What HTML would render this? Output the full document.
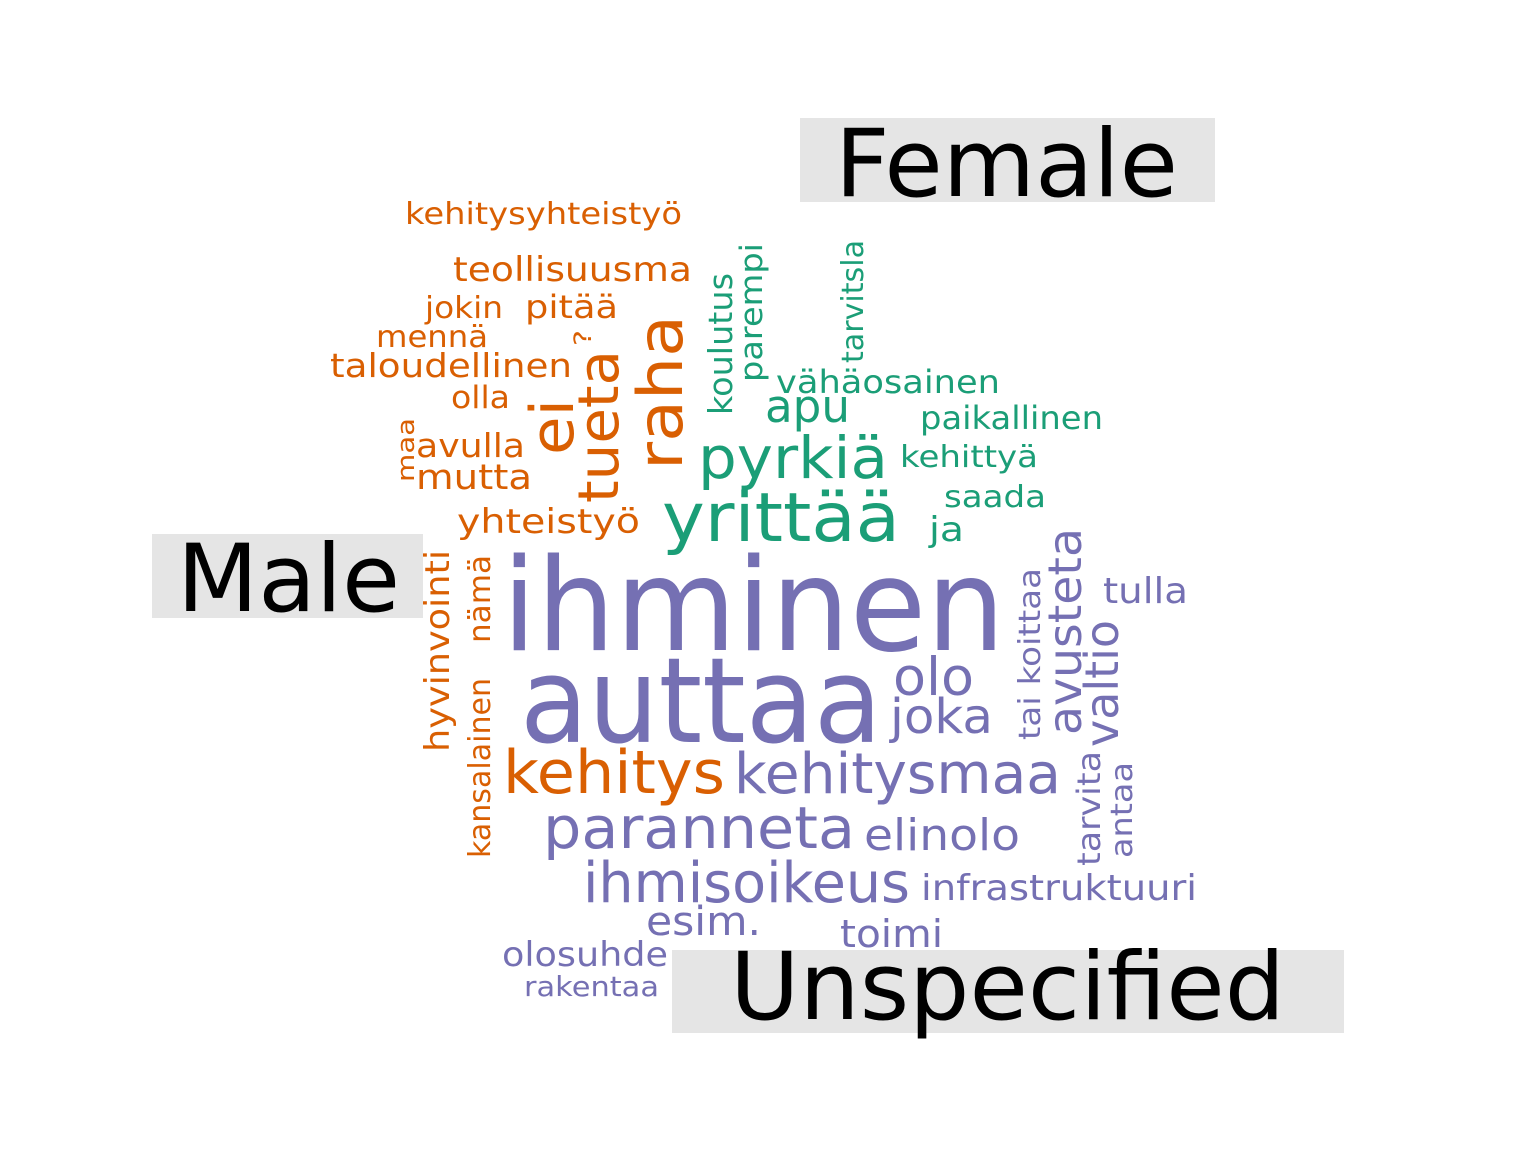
<!DOCTYPE html>
<html><head><meta charset="utf-8"><style>
html,body{margin:0;padding:0;background:#fff;}
svg{display:block;font-family:"DejaVu Sans","Liberation Sans",sans-serif;}
.o{fill:#d95f02}.g{fill:#1b9e77}.p{fill:#7570b3}
</style></head><body>
<svg width="1536" height="1152" viewBox="0 0 1536 1152">
<rect x="0" y="0" width="1536" height="1152" fill="#fff"/>
<g>
<rect x="800" y="118" width="415" height="84" fill="#e5e5e5"/>
<text x="835" y="196" font-size="94" textLength="343" lengthAdjust="spacingAndGlyphs">Female</text>
<rect x="152" y="534" width="271" height="84" fill="#e5e5e5"/>
<text x="177" y="611" font-size="94" textLength="223" lengthAdjust="spacingAndGlyphs">Male</text>
<rect x="672" y="950" width="672" height="83" fill="#e5e5e5"/>
<text x="730" y="1019" font-size="94" textLength="555" lengthAdjust="spacingAndGlyphs">Unspecified</text>
</g>
<g class="o">
<text x="405" y="224" font-size="30" textLength="277" lengthAdjust="spacingAndGlyphs">kehitysyhteistyö</text>
<text x="453" y="281" font-size="34" textLength="239" lengthAdjust="spacingAndGlyphs">teollisuusma</text>
<text x="425" y="318" font-size="30" textLength="78" lengthAdjust="spacingAndGlyphs">jokin</text>
<text x="525" y="318" font-size="32" textLength="93" lengthAdjust="spacingAndGlyphs">pitää</text>
<text x="376" y="347" font-size="30" textLength="112" lengthAdjust="spacingAndGlyphs">mennä</text>
<text x="330" y="377" font-size="33" textLength="242" lengthAdjust="spacingAndGlyphs">taloudellinen</text>
<text x="451" y="408" font-size="31" textLength="59" lengthAdjust="spacingAndGlyphs">olla</text>
<text x="416" y="457" font-size="33" textLength="109" lengthAdjust="spacingAndGlyphs">avulla</text>
<text x="416" y="489" font-size="35" textLength="116" lengthAdjust="spacingAndGlyphs">mutta</text>
<text x="457" y="533" font-size="34" textLength="183" lengthAdjust="spacingAndGlyphs">yhteistyö</text>
<text transform="translate(414,482) rotate(-90)" font-size="24" textLength="64" lengthAdjust="spacingAndGlyphs">maa</text>
<text transform="translate(591,346) rotate(-90)" font-size="24" textLength="16" lengthAdjust="spacingAndGlyphs">?</text>
<text transform="translate(573,455) rotate(-90)" font-size="60" textLength="56" lengthAdjust="spacingAndGlyphs">ei</text>
<text transform="translate(618,503) rotate(-90)" font-size="56" textLength="153" lengthAdjust="spacingAndGlyphs">tueta</text>
<text transform="translate(682,470) rotate(-90)" font-size="62" textLength="155" lengthAdjust="spacingAndGlyphs">raha</text>
<text transform="translate(449,752) rotate(-90)" font-size="34" textLength="202" lengthAdjust="spacingAndGlyphs">hyvinvointi</text>
<text transform="translate(490,643) rotate(-90)" font-size="30" textLength="88" lengthAdjust="spacingAndGlyphs">nämä</text>
<text transform="translate(490,858) rotate(-90)" font-size="30" textLength="180" lengthAdjust="spacingAndGlyphs">kansalainen</text>
<text x="503" y="793" font-size="60" textLength="222" lengthAdjust="spacingAndGlyphs">kehitys</text>
</g>
<g class="g">
<text transform="translate(732,415) rotate(-90)" font-size="33" textLength="142" lengthAdjust="spacingAndGlyphs">koulutus</text>
<text transform="translate(762,382) rotate(-90)" font-size="31" textLength="139" lengthAdjust="spacingAndGlyphs">parempi</text>
<text transform="translate(863,363) rotate(-90)" font-size="30" textLength="123" lengthAdjust="spacingAndGlyphs">tarvitsla</text>
<text x="776" y="393" font-size="32" textLength="224" lengthAdjust="spacingAndGlyphs">vähäosainen</text>
<text x="765" y="422" font-size="45" textLength="85" lengthAdjust="spacingAndGlyphs">apu</text>
<text x="920" y="429" font-size="32" textLength="183" lengthAdjust="spacingAndGlyphs">paikallinen</text>
<text x="698" y="478" font-size="58" textLength="190" lengthAdjust="spacingAndGlyphs">pyrkiä</text>
<text x="900" y="467" font-size="30" textLength="138" lengthAdjust="spacingAndGlyphs">kehittyä</text>
<text x="944" y="507" font-size="30" textLength="102" lengthAdjust="spacingAndGlyphs">saada</text>
<text x="662" y="541" font-size="68" textLength="238" lengthAdjust="spacingAndGlyphs">yrittää</text>
<text x="929" y="541" font-size="34" textLength="35" lengthAdjust="spacingAndGlyphs">ja</text>
</g>
<g class="p">
<text x="502" y="650" font-size="128" textLength="503" lengthAdjust="spacingAndGlyphs">ihminen</text>
<text x="520" y="742" font-size="119" textLength="362" lengthAdjust="spacingAndGlyphs">auttaa</text>
<text x="734" y="793" font-size="56" textLength="327" lengthAdjust="spacingAndGlyphs">kehitysmaa</text>
<text x="893" y="695" font-size="53" textLength="81" lengthAdjust="spacingAndGlyphs">olo</text>
<text x="890" y="733" font-size="48" textLength="103" lengthAdjust="spacingAndGlyphs">joka</text>
<text x="543" y="848" font-size="58" textLength="312" lengthAdjust="spacingAndGlyphs">paranneta</text>
<text x="864" y="850" font-size="44" textLength="156" lengthAdjust="spacingAndGlyphs">elinolo</text>
<text x="583" y="902" font-size="56" textLength="327" lengthAdjust="spacingAndGlyphs">ihmisoikeus</text>
<text x="921" y="900" font-size="36" textLength="276" lengthAdjust="spacingAndGlyphs">infrastruktuuri</text>
<text x="646" y="935" font-size="40" textLength="115" lengthAdjust="spacingAndGlyphs">esim.</text>
<text x="840" y="947" font-size="38" textLength="103" lengthAdjust="spacingAndGlyphs">toimi</text>
<text x="502" y="966" font-size="34" textLength="166" lengthAdjust="spacingAndGlyphs">olosuhde</text>
<text x="524" y="996" font-size="28" textLength="135" lengthAdjust="spacingAndGlyphs">rakentaa</text>
<text x="1103" y="603" font-size="36" textLength="85" lengthAdjust="spacingAndGlyphs">tulla</text>
<text transform="translate(1040,740) rotate(-90)" font-size="30" textLength="172" lengthAdjust="spacingAndGlyphs">tai koittaa</text>
<text transform="translate(1081,735) rotate(-90)" font-size="46" textLength="207" lengthAdjust="spacingAndGlyphs">avusteta</text>
<text transform="translate(1118,747) rotate(-90)" font-size="46" textLength="127" lengthAdjust="spacingAndGlyphs">valtio</text>
<text transform="translate(1100,866) rotate(-90)" font-size="32" textLength="115" lengthAdjust="spacingAndGlyphs">tarvita</text>
<text transform="translate(1132,858) rotate(-90)" font-size="30" textLength="96" lengthAdjust="spacingAndGlyphs">antaa</text>
</g>
</svg>
</body></html>
